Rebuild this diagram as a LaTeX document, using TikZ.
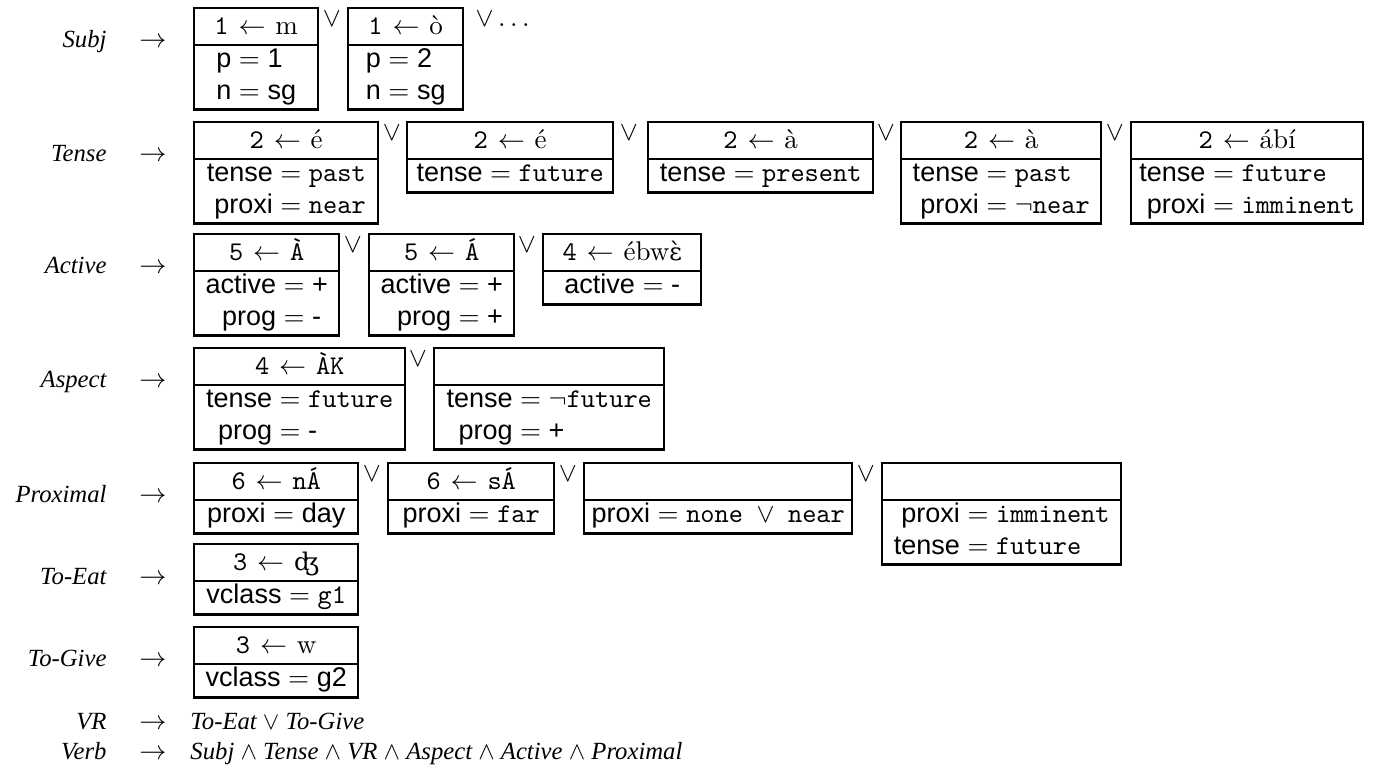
\documentclass[tikz,border=0pt,11pt]{standalone}
\usepackage{fontspec}
\setsansfont{Liberation Sans}
\newfontfamily\labfont{Liberation Serif}
\newfontfamily\ipafont[Scale=0.9]{DejaVu Serif}
\usepackage{tikz}
\usetikzlibrary{shapes.multipart}
\tikzset{fsbox/.style={draw, line width=1pt, rectangle split, rectangle split parts=2,
    inner xsep=0pt, inner ysep=0pt, anchor=north west, minimum width=#1*0.405pt},
    lab/.style={anchor=base east, inner sep=0pt, font=\fontsize{10}{12}\labfont\itshape},
    arr/.style={anchor=base},
    orv/.style={anchor=base}}
\newcommand{\hd}[2]{\rule[-3.8pt]{0pt}{13.8pt}\texttt{#1}\hspace{4pt}$\leftarrow$\hspace{4pt}#2}
\newcommand{\nohd}{\rule[-3.8pt]{0pt}{13.8pt}}
\renewcommand{\arraystretch}{0.93}
\newcommand{\fs}[1]{{\sffamily\begin{tabular}{@{}r@{${}={}$}l@{}}#1\end{tabular}}}

\begin{document}
\begin{tikzpicture}[x=0.405pt, y=-0.405pt]
    \useasboundingbox (0,0) rectangle (1382,778);
    % Subj
    \node[lab] (lSubj) at (107,48) {Subj};
    \node[arr] (aSubj) at (153,48) {$\rightarrow$};
    \node[fsbox=124] (s1) at (193,7) {\hd{1}{m}\nodepart{two}\fs{p & 1\\ n & sg}};
    \node[orv] (vs1) at (332,27) {$\vee$};
    \node[fsbox=115] (s2) at (347,7) {\hd{1}{ò}\nodepart{two}\fs{p & 2\\ n & sg}};
    \node[anchor=base west] (vs2) at (466,27) {$\vee\ldots$};
    % Tense
    \node[lab] (lTense) at (107,162) {Tense};
    \node[arr] (aTense) at (153,162) {$\rightarrow$};
    \node[fsbox=184] (t1) at (193,121) {\hd{2}{é}\nodepart{two}\fs{tense & \texttt{past}\\ proxi & \texttt{near}}};
    \node[orv] (vt1) at (392,141) {$\vee$};
    \node[fsbox=206] (t2) at (406,121) {\hd{2}{é}\nodepart{two}\fs{tense & \texttt{future}}};
    \node[orv] (vt2) at (629,141) {$\vee$};
    \node[fsbox=225] (t3) at (647,121) {\hd{2}{à}\nodepart{two}\fs{tense & \texttt{present}}};
    \node[orv] (vt3) at (886,141) {$\vee$};
    \node[fsbox=200] (t4) at (900,121) {\hd{2}{à}\nodepart{two}\fs{tense & \texttt{past}\\ proxi & $\neg$\texttt{near}}};
    \node[orv] (vt4) at (1115,141) {$\vee$};
    \node[fsbox=232] (t5) at (1130,121) {\hd{2}{ábí}\nodepart{two}\fs{tense & \texttt{future}\\ proxi & \texttt{imminent}}};
    % Active
    \node[lab] (lActive) at (107,274) {Active};
    \node[arr] (aActive) at (153,274) {$\rightarrow$};
    \node[fsbox=145] (a1) at (193,233) {\hd{5}{\texttt{À}}\nodepart{two}\fs{active & +\\ prog & -}};
    \node[orv] (va1) at (353,253) {$\vee$};
    \node[fsbox=145] (a2) at (368,233) {\hd{5}{\texttt{Á}}\nodepart{two}\fs{active & +\\ prog & +}};
    \node[orv] (va2) at (527,253) {$\vee$};
    \node[fsbox=158] (a3) at (542,233) {\hd{4}{ébw{\ipafont ɛ̀}}\nodepart{two}\fs{active & -}};
    % Aspect
    \node[lab] (lAspect) at (107,388) {Aspect};
    \node[arr] (aAspect) at (153,388) {$\rightarrow$};
    \node[fsbox=211] (p1) at (193,347) {\hd{4}{\texttt{ÀK}}\nodepart{two}\fs{tense & \texttt{future}\\ prog & -}};
    \node[orv] (vp1) at (418,367) {$\vee$};
    \node[fsbox=230] (p2) at (433,347) {\nohd\nodepart{two}\fs{tense & $\neg$\texttt{future}\\ prog & +}};
    % Proximal
    \node[lab] (lProximal) at (107,503) {Proximal};
    \node[arr] (aProximal) at (153,503) {$\rightarrow$};
    \node[fsbox=164] (x1) at (193,462) {\hd{6}{\texttt{nÁ}}\nodepart{two}\fs{proxi & day}};
    \node[orv] (vx1) at (372,482) {$\vee$};
    \node[fsbox=166] (x2) at (387,462) {\hd{6}{\texttt{sÁ}}\nodepart{two}\fs{proxi & \texttt{far}}};
    \node[orv] (vx2) at (568,482) {$\vee$};
    \node[fsbox=268] (x3) at (583,462) {\nohd\nodepart{two}\fs{proxi & \texttt{none}\enspace$\vee$\enspace\texttt{near}}};
    \node[orv] (vx3) at (866,482) {$\vee$};
    \node[fsbox=239] (x4) at (881,462) {\nohd\nodepart{two}\fs{proxi & \texttt{imminent}\\ tense & \texttt{future}}};
    % To-Eat
    \node[lab] (lEat) at (107,584) {To-Eat};
    \node[arr] (aEat) at (153,584) {$\rightarrow$};
    \node[fsbox=164] (e1) at (193,543) {\hd{3}{{\ipafont ʤ}}\nodepart{two}\fs{vclass & \texttt{g1}}};
    % To-Give
    \node[lab] (lGive) at (107,667) {To-Give};
    \node[arr] (aGive) at (153,667) {$\rightarrow$};
    \node[fsbox=164] (g1) at (193,626) {\hd{3}{w}\nodepart{two}\fs{vclass & g2}};
    % VR
    \node[lab] (lVR) at (107,729) {VR};
    \node[arr] (aVR) at (153,729) {$\rightarrow$};
    \node[anchor=base west, inner sep=0pt, font=\fontsize{10}{12}\labfont\itshape] (rVR) at (190,729) {To-Eat $\vee$ To-Give};
    % Verb
    \node[lab] (lVerb) at (107,759) {Verb};
    \node[arr] (aVerb) at (153,759) {$\rightarrow$};
    \node[anchor=base west, inner sep=0pt, font=\fontsize{10}{12}\labfont\itshape] (rVerb) at (190,759)
        {Subj $\wedge$ Tense $\wedge$ VR $\wedge$ Aspect $\wedge$ Active $\wedge$ Proximal};
\end{tikzpicture}
\end{document}
